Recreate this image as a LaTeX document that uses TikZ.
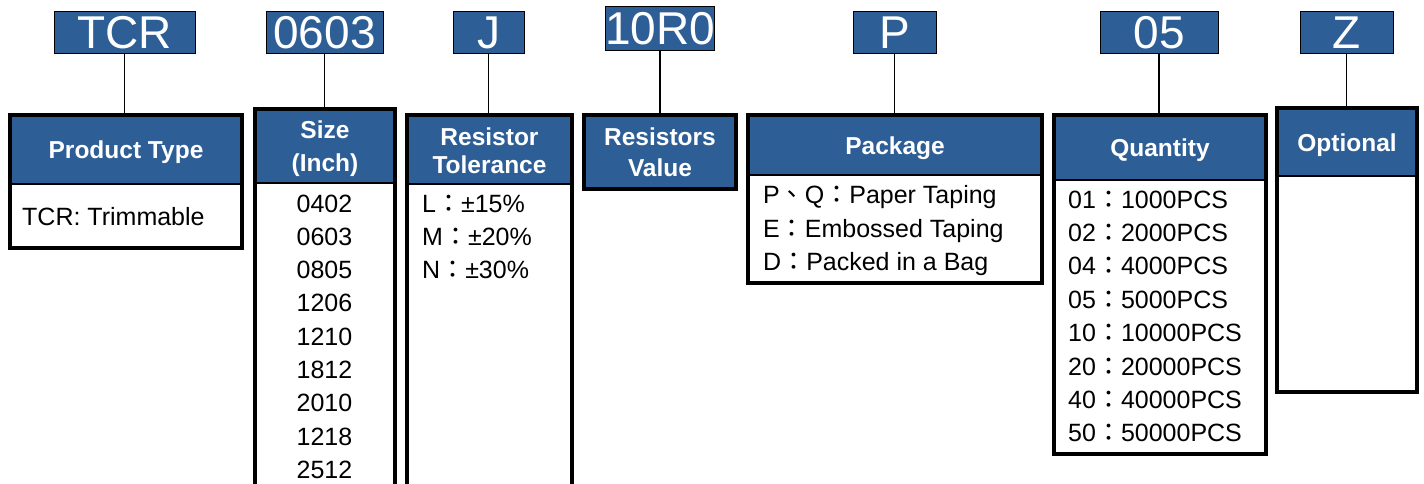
\documentclass[tikz,border=0pt]{standalone}
\usepackage{fontspec}
\setmainfont{Liberation Sans}
\newfontfamily\cjk{Noto Sans CJK TC}
\definecolor{bleu}{HTML}{2E5E96}
\newcommand{\colfw}{{\cjk ：}}
\newcommand{\haut}[1]{\rule{0pt}{#1}}
\begin{document}
\begin{tikzpicture}[x=1pt, y=-1pt,
  code/.style={draw=black, line width=1pt, fill=bleu, text=white, inner sep=0pt, minimum height=42pt, font=\fontsize{46}{46}\selectfont},
  tete/.style={draw=black, line width=1pt, fill=bleu, text=white, inner sep=0pt, anchor=north west, align=center, font=\bfseries\fontsize{24.5}{31}\selectfont},
  seule/.style={text height=24pt, text depth=5.2pt},
  corps/.style={draw=black, line width=1pt, fill=white, inner sep=0pt, anchor=north west},
  cadre/.style={draw=black, line width=4pt},
  item/.style={inner sep=0pt, font=\fontsize{25}{30}\selectfont},
  lien/.style={draw=black, line width=1.2pt}]

    \useasboundingbox (0,0) rectangle (1424,484);

    % Codes
    \node[code, minimum width=141pt] (cTCR) at (124.5,33) {TCR};
    \node[code, minimum width=117pt] (cSize) at (324.5,33) {0603};
    \node[code, minimum width=71pt] (cTol) at (488.5,33) {J};
    \node[code, minimum width=106pt, minimum height=44pt] (cVal) at (660,29) {10R0};
    \node[code, minimum width=83pt] (cPack) at (894.5,33) {P};
    \node[code, minimum width=118pt] (cQty) at (1159,33) {05};
    \node[code, minimum width=93pt] (cOpt) at (1346.5,33) {Z};

    % Product Type
    \node[tete, seule, minimum width=231pt, minimum height=68pt] (ptH) at (10,115) {Product Type};
    \node[corps, minimum width=231pt, minimum height=63pt] (ptB) at (ptH.south west) {};
    \draw[cadre] (ptH.north west) rectangle (ptB.south east);
    \node[item, anchor=base west] (ptT) at (22,225) {TCR: Trimmable};

    % Size
    \node[tete, minimum width=139pt, minimum height=73pt, font=\bfseries\fontsize{24.5}{33}\selectfont] (szH) at (255,109) {\haut{24pt}Size\\(Inch)};
    \node[corps, minimum width=139pt, minimum height=320pt] (szB) at (szH.south west) {};
    \draw[cadre] (szH.north west) rectangle (szB.south east);
    \foreach \v [count=\i from 0] in {0402,0603,0805,1206,1210,1812,2010,1218,2512}
        \node[item, anchor=base] (sz\i) at (324.5,{212+33.3*\i}) {\v};

    % Tolerance
    \node[tete, minimum width=164pt, minimum height=68pt, font=\bfseries\fontsize{24.5}{28}\selectfont] (tolH) at (407,115) {\haut{21pt}Resistor\\Tolerance};
    \node[corps, minimum width=164pt, minimum height=320pt] (tolB) at (tolH.south west) {};
    \draw[cadre] (tolH.north west) rectangle (tolB.south east);
    \foreach \lt/\pc [count=\i from 0] in {L/15,M/20,N/30}
        \node[item, anchor=base west] (tol\i) at (422,{212+33*\i}) {\lt\colfw±\pc\%};

    % Value
    \node[tete, minimum width=151pt, minimum height=73pt] (valH) at (584,115) {Resistors\\Value};
    \draw[cadre] (valH.north west) rectangle (valH.south east);

    % Package
    \node[tete, seule, minimum width=293pt, minimum height=59pt] (pkH) at (748,115) {Package};
    \node[corps, minimum width=293pt, minimum height=107pt] (pkB) at (pkH.south west) {};
    \draw[cadre] (pkH.north west) rectangle (pkB.south east);
    \node[item, anchor=base west] (pk0) at (763,203) {P{\cjk 、}Q\colfw Paper Taping};
    \node[item, anchor=base west] (pk1) at (763,237) {E\colfw Embossed Taping};
    \node[item, anchor=base west] (pk2) at (763,270) {D\colfw Packed in a Bag};

    % Quantity
    \node[tete, seule, minimum width=211pt, minimum height=64pt] (qtH) at (1054,115) {Quantity};
    \node[corps, minimum width=211pt, minimum height=273pt] (qtB) at (qtH.south west) {};
    \draw[cadre] (qtH.north west) rectangle (qtB.south east);
    \foreach \a/\b [count=\i from 0] in {01/1000,02/2000,04/4000,05/5000,10/10000,20/20000,40/40000,50/50000}
        \node[item, anchor=base west] (qt\i) at (1068,{208+33.4*\i}) {\a\colfw\b PCS};

    % Optional
    \node[tete, seule, minimum width=139pt, minimum height=67pt] (opH) at (1277,108) {Optional};
    \node[corps, minimum width=139pt, minimum height=215pt] (opB) at (opH.south west) {};
    \draw[cadre] (opH.north west) rectangle (opB.south east);

    % Liens
    \draw[lien] (cTCR.south) -- (cTCR.south |- ptH.north);
    \draw[lien] (cSize.south) -- (cSize.south |- szH.north);
    \draw[lien] (cTol.south) -- (cTol.south |- tolH.north);
    \draw[lien] (cVal.south) -- (cVal.south |- valH.north);
    \draw[lien] (cPack.south) -- (cPack.south |- pkH.north);
    \draw[lien] (cQty.south) -- (cQty.south |- qtH.north);
    \draw[lien] (cOpt.south) -- (cOpt.south |- opH.north);
\end{tikzpicture}
\end{document}
